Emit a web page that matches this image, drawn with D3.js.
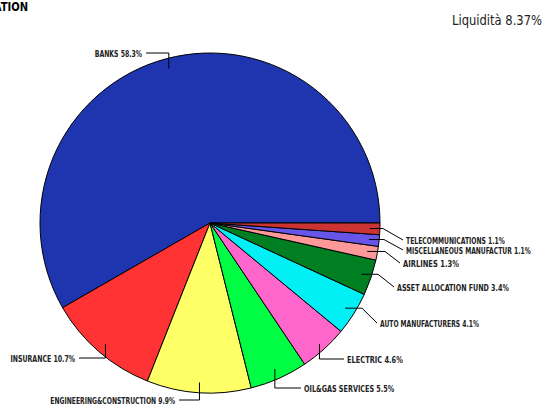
<!DOCTYPE html>
<html><head><meta charset="utf-8">
<script src="https://cdn.jsdelivr.net/npm/d3@7/dist/d3.min.js"></script>
<style>
body{margin:0;background:#fff;}
svg{display:block;}
text{font-family:"DejaVu Sans Condensed","DejaVu Sans",sans-serif;font-stretch:condensed;}
</style></head><body>
<svg id="c" width="545" height="405"></svg>
<script>
const categories = ["BANKS","INSURANCE","ENGINEERING&CONSTRUCTION","OIL&GAS SERVICES","ELECTRIC","AUTO MANUFACTURERS","ASSET ALLOCATION FUND","AIRLINES","MISCELLANEOUS MANUFACTUR","TELECOMMUNICATIONS"];
const values = [58.3,10.7,9.9,5.5,4.6,4.1,3.4,1.3,1.1,1.1];
const colors = ["#1E35AF","#FF3333","#FFFF66","#00FF44","#FF66CC","#00F0F5","#007F22","#FF9999","#6655E8","#CC3333"];
const title = "ALLOCATION";
const liquidity = "Liquidità 8.37%";

const svg = d3.select("#c");
const cx = 210, cy = 223, R = 170;

svg.append("text").attr("x",28).attr("y",11).attr("text-anchor","end")
  .attr("font-size",13).attr("font-weight","bold")
  .attr("textLength", title.length*7).attr("lengthAdjust","spacingAndGlyphs").text(title);
svg.append("text").attr("x",542).attr("y",25).attr("text-anchor","end")
  .attr("font-size",14).attr("fill","#222")
  .attr("textLength", 90).attr("lengthAdjust","spacingAndGlyphs").text(liquidity);

const pie = d3.pie().sort(null).value(d=>d)
  .startAngle(Math.PI/2).endAngle(Math.PI/2 - 2*Math.PI);
const arcs = pie(values);
const arc = d3.arc().innerRadius(0).outerRadius(R);
const g = svg.append("g").attr("transform",`translate(${cx},${cy})`);
g.selectAll("path").data(arcs).join("path")
  .attr("d",arc).attr("fill",(d,i)=>colors[i])
  .attr("stroke","#000").attr("stroke-width",1).attr("stroke-linejoin","round");

const layout = [
  {t:"v", y:53, x:146, a:"end"},
  {t:"v", y:358, x:79, a:"end"},
  {t:"v", y:400, x:179, a:"end"},
  {t:"v", y:388, x:301, a:"start"},
  {t:"v", y:359, x:344, a:"start"},
  {t:"hd", ex:362, y:323, x:377, a:"start"},
  {t:"hd", ex:378, y:287, x:394, a:"start"},
  {t:"hd", ex:385, y:263, x:400, a:"start"},
  {t:"hd", ex:384, y:250, x:403, a:"start"},
  {t:"hd", ex:383, y:240, x:403, a:"start"}
];
const rad = [0.94,0.94,0.94,0.94,0.96,0.94,0.94,0.94,0.94,0.94];
arcs.forEach((d,i)=>{
  const mid = (d.startAngle + d.endAngle)/2;
  const r = R*rad[i];
  const ax = cx + r*Math.sin(mid), ay = cy - r*Math.cos(mid);
  const L = layout[i];
  let pts;
  if (L.t==="v") pts = [[ax,ay],[ax,L.y],[L.x,L.y]];
  else pts = [[ax,ay],[L.ex,ay],[L.x,L.y]];
  svg.append("path").attr("d",d3.line()(pts)).attr("fill","none")
    .attr("stroke","#000").attr("stroke-width",1);
  const label = `${categories[i]} ${values[i]}%`;
  const tx = L.a==="end" ? L.x-4 : L.x+3;
  svg.append("text").attr("x",tx).attr("y",L.y+3.5).attr("text-anchor",L.a)
    .attr("font-size",9.5).attr("font-weight","bold").attr("fill","#222")
    .attr("textLength", label.length*4.3).attr("lengthAdjust","spacingAndGlyphs")
    .text(label);
});
</script></body></html>
